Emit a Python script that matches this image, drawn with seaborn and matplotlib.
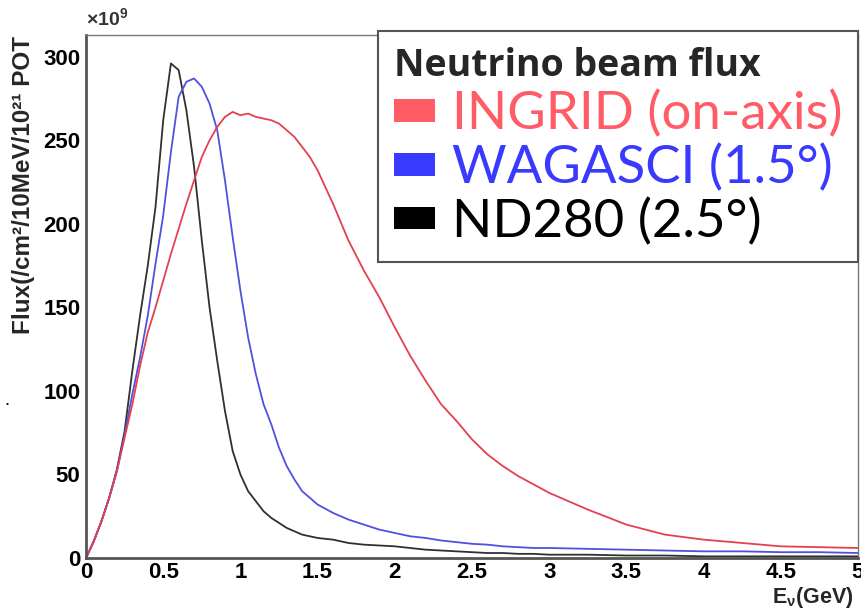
import matplotlib
matplotlib.use("Agg")
import matplotlib.pyplot as plt
from matplotlib.patches import Patch
from matplotlib.ticker import MultipleLocator
import seaborn as sns
import numpy as np
import pandas as pd

# neutrino energy grid (GeV)
energy = [0.0, 0.05, 0.1, 0.15, 0.2, 0.25, 0.3, 0.35, 0.4, 0.45, 0.5, 0.55, 0.6, 0.65,
          0.7, 0.75, 0.8, 0.85, 0.9, 0.95, 1.0, 1.05, 1.1, 1.15, 1.2, 1.25, 1.3, 1.35,
          1.4, 1.45, 1.5, 1.6, 1.7, 1.8, 1.9, 2.0, 2.1, 2.2, 2.3, 2.4, 2.5, 2.6, 2.7,
          2.8, 2.9, 3.0, 3.25, 3.5, 3.75, 4.0, 4.25, 4.5, 4.75, 5.0]

# flux in units of 1e9 /cm2/10MeV/1e21 POT
ingrid = [0, 10, 22, 36, 52, 72, 92, 115, 135, 150, 166, 182, 197, 212,
          226, 240, 250, 258, 264, 267, 265, 266, 264, 263, 262, 260, 256, 252,
          246, 240, 232, 212, 190, 172, 156, 138, 121, 106, 92, 82, 71, 62, 55,
          49, 44, 39, 29, 20, 14, 11, 9, 7, 6.5, 6]
wagasci = [0, 10, 22, 36, 52, 74, 98, 120, 145, 176, 205, 243, 276, 285,
           287, 282, 272, 256, 226, 192, 160, 132, 110, 92, 80, 66, 55, 47,
           40, 36, 32, 27, 23, 20, 17, 15, 13, 12, 10.5, 9.5, 8.5, 8, 7,
           6.5, 6, 6, 5.5, 5, 4.5, 4, 4, 3.5, 3.5, 3]
nd280 = [0, 10, 22, 36, 53, 76, 112, 145, 175, 210, 262, 296, 292, 268,
         234, 190, 150, 118, 88, 64, 50, 40, 34, 28, 24, 21, 18, 16,
         14, 13, 12, 11, 9, 8, 7.5, 7, 6, 5, 4.5, 4, 3.5, 3, 3,
         2.5, 2.5, 2, 2, 1.5, 1.5, 1, 1, 1, 1, 1]

labels = ["INGRID (on-axis)", "WAGASCI (1.5°)", "ND280 (2.5°)"]
line_colors = ["#e4404e", "#5050e0", "#303030"]
legend_colors = ["#ff5c66", "#3a3aff", "#000000"]

df = pd.DataFrame({
    "E": energy * 3,
    "flux": ingrid + wagasci + nd280,
    "detector": [labels[0]] * len(energy) + [labels[1]] * len(energy) + [labels[2]] * len(energy),
})

sns.set_style("white")
plt.rcParams["font.family"] = ["Liberation Sans", "DejaVu Sans"]
plt.rcParams["mathtext.fontset"] = "custom"
plt.rcParams["mathtext.rm"] = "Liberation Sans:bold"
plt.rcParams["mathtext.it"] = "Liberation Sans:bold"
plt.rcParams["mathtext.bf"] = "Liberation Sans:bold"

fig = plt.figure(figsize=(8.61, 6.11), dpi=100)
ax = fig.add_axes([0.0999, 0.0867, 0.8966, 0.856])

sns.lineplot(data=df, x="E", y="flux", hue="detector", hue_order=labels[::-1],
             palette=dict(zip(labels, line_colors)), linewidth=1.3, legend=False, ax=ax)

ax.set_xlim(0, 5)
ax.set_ylim(0, 313)
ax.xaxis.set_minor_locator(MultipleLocator(0.1))
ax.yaxis.set_major_locator(MultipleLocator(50))
ax.yaxis.set_minor_locator(MultipleLocator(10))
ax.set_xticks(np.arange(0, 5.01, 0.5))
ax.set_xticklabels(["0", "0.5", "1", "1.5", "2", "2.5", "3", "3.5", "4", "4.5", "5"])

ax.tick_params(axis="both", which="both", direction="in", colors="#555555",
               labelcolor="black", labelsize=16)
ax.tick_params(axis="y", which="major", length=20, width=1.5, pad=4)
ax.tick_params(axis="y", which="minor", length=10, width=1.2)
ax.tick_params(axis="x", which="major", length=15, width=1.5, pad=3)
ax.tick_params(axis="x", which="minor", length=8, width=1.2)
for lab in ax.get_xticklabels() + ax.get_yticklabels():
    lab.set_fontweight("bold")

for side in ["left", "bottom"]:
    ax.spines[side].set_color("#555555")
    ax.spines[side].set_linewidth(2)
for side in ["top", "right"]:
    ax.spines[side].set_color("#777777")
    ax.spines[side].set_linewidth(1)

ax.set_ylabel("Flux(/cm²/10MeV/10²¹ POT", fontsize=17.5, fontweight="bold")
ax.yaxis.set_label_coords(-0.066, 0.713)
ax.set_xlabel(r"E$_{\nu}$(GeV)", fontsize=15.5, fontweight="bold", loc="right")
ax.xaxis.set_label_coords(0.994, -0.052)

fig.text(0.1, 0.952, r"×10$^{9}$", fontsize=14, fontweight="bold", color="#333333",
         ha="left", va="bottom")
fig.text(0.006, 0.335, "•", fontsize=6, color="black")

handles = [Patch(facecolor=c, edgecolor="none") for c in legend_colors]
leg = ax.legend(handles=handles, labels=labels, title="Neutrino beam flux",
                loc="upper left", bbox_to_anchor=(0.439, 0.949),
                bbox_transform=fig.transFigure, frameon=True, fancybox=False,
                prop={"family": ["Lato", "DejaVu Sans"], "size": 38},
                title_fontproperties={"family": ["Open Sans", "DejaVu Sans"],
                                      "weight": "bold", "size": 27},
                labelcolor=legend_colors, alignment="left",
                handlelength=0.78, handleheight=0.28, handletextpad=0.32,
                labelspacing=0.1, borderpad=0.3, borderaxespad=0)
leg.get_frame().set_edgecolor("#555555")
leg.get_frame().set_linewidth(1.5)
leg.get_frame().set_facecolor("white")
leg.get_frame().set_alpha(1)

fig.savefig("out.png", dpi=100)
